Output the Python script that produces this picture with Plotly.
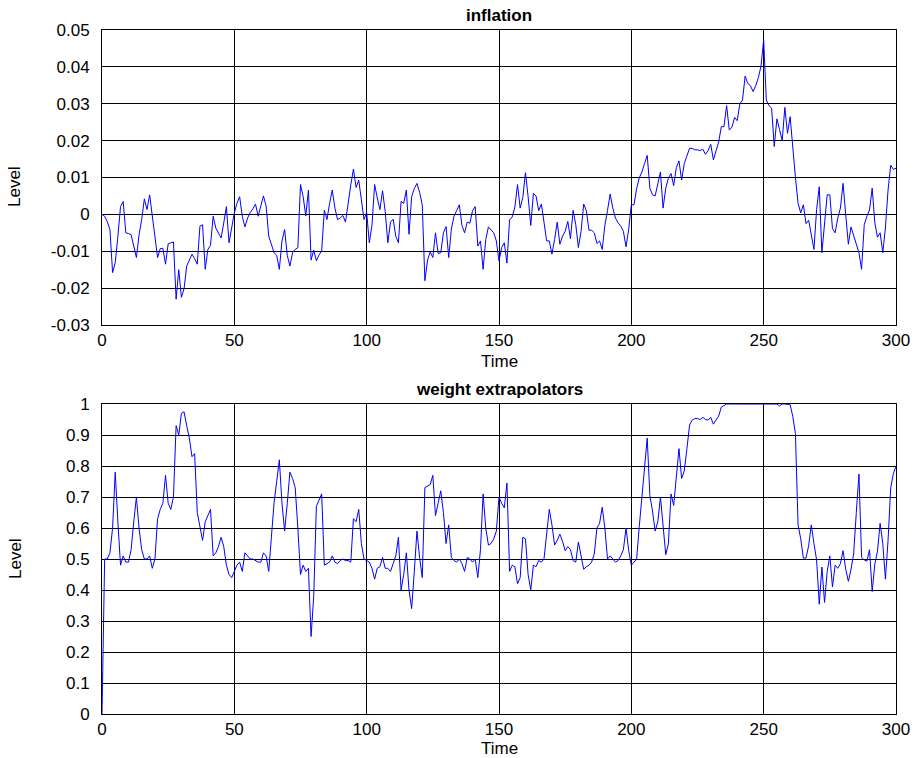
import plotly.graph_objects as go

time = list(range(301))

inflation = [
    0.0, -0.0005, -0.002, -0.0041, -0.0158, -0.0131, -0.006, 0.0021, 0.0035, -0.005,
    -0.0052, -0.0055, -0.0086, -0.0117, -0.0055, -0.0014, 0.0042, 0.0013, 0.0053, -0.0005,
    -0.005, -0.0117, -0.0093, -0.0092, -0.0135, -0.008, -0.0077, -0.0075, -0.023, -0.015,
    -0.0225, -0.0202, -0.014, -0.0126, -0.0108, -0.012, -0.0135, -0.0032, -0.0028, -0.0149,
    -0.0095, -0.0084, -0.0005, -0.0037, -0.0052, -0.0064, -0.0023, 0.0021, -0.0077, -0.0035,
    0.0004, 0.003, 0.0048, -0.0005, -0.0034, -0.001, 0.0005, 0.0015, 0.0028, -0.0005,
    0.002, 0.005, 0.0023, -0.0059, -0.0081, -0.0104, -0.0111, -0.0149, -0.0072, -0.0041,
    -0.0111, -0.014, -0.0104, -0.0095, -0.009, 0.0081, 0.0048, -0.0004, 0.0066, -0.0124,
    -0.0097, -0.0126, -0.011, -0.0099, 0.0011, -0.0014, 0.003, 0.0066, 0.0017, -0.0014,
    -0.001, -0.0003, -0.0021, 0.0035, 0.008, 0.0123, 0.0073, 0.0093, 0.0032, -0.0014,
    0.0005, -0.0077, -0.003, 0.0081, 0.0045, 0.0013, 0.0064, 0.0008, -0.0077, -0.0021,
    -0.0013, -0.0059, -0.0077, 0.0035, 0.003, 0.0066, -0.0054, 0.0048, 0.007, 0.0084,
    0.006, 0.0026, -0.018, -0.0124, -0.0102, -0.0117, -0.005, -0.0106, -0.0104, -0.005,
    -0.0033, -0.0117, -0.004, -0.0005, 0.001, 0.0026, -0.003, -0.005, -0.0021, -0.0024,
    0.001, 0.0021, -0.0086, -0.0072, -0.0149, -0.0068, -0.0034, -0.0043, -0.005, -0.0072,
    -0.0126, -0.009, -0.0077, -0.0132, -0.0015, -0.0007, 0.002, 0.0081, 0.0017, 0.0046,
    0.0113, 0.0048, -0.003, 0.0057, 0.005, 0.001, 0.0028, -0.0021, -0.0072, -0.0072,
    -0.0108, -0.0068, -0.0021, -0.0081, -0.0059, -0.0046, -0.0019, -0.0066, 0.0011, -0.0028,
    -0.009, -0.0046, 0.0028, 0.001, -0.0043, -0.0043, -0.005, -0.0079, -0.0072, -0.0095,
    -0.003, 0.0011, 0.0055, 0.0017, -0.001, -0.0023, -0.0032, -0.0046, -0.0088, -0.004,
    0.0026, 0.0026, 0.007, 0.0099, 0.0115, 0.0138, 0.016, 0.0071, 0.0053, 0.005,
    0.0085, 0.0115, 0.0017, 0.0071, 0.0098, 0.0111, 0.0078, 0.0127, 0.0145, 0.0093,
    0.0138, 0.016, 0.0179, 0.0179, 0.0175, 0.0175, 0.0173, 0.0177, 0.0163, 0.0173,
    0.019, 0.0148, 0.0175, 0.0196, 0.0238, 0.0238, 0.0295, 0.0229, 0.0236, 0.0263,
    0.0254, 0.03, 0.031, 0.0375, 0.0355, 0.0349, 0.0333, 0.0349, 0.0371, 0.0402,
    0.0474, 0.031, 0.0295, 0.0288, 0.0184, 0.0259, 0.023, 0.02, 0.029, 0.022,
    0.0265, 0.0174, 0.01, 0.003, 0.0004, 0.0026, -0.0025, -0.0016, -0.0059, -0.0095,
    0.0013, 0.0075, -0.0104, -0.0023, 0.0053, 0.0053, -0.0039, -0.005, -0.001, 0.0017,
    0.0084, -0.0001, -0.0081, -0.0034, -0.0059, -0.008, -0.0104, -0.0149, -0.0028, -0.0005,
    0.0012, 0.0071, -0.0023, -0.0062, -0.005, -0.0104, -0.0037, 0.0066, 0.0133, 0.0122,
    0.0125,
]

weight = [
    0.0, 0.50, 0.50, 0.52, 0.60, 0.78, 0.62, 0.48, 0.51, 0.49,
    0.49, 0.53, 0.62, 0.70, 0.60, 0.53, 0.50, 0.50, 0.51, 0.47,
    0.50, 0.63, 0.66, 0.68, 0.77, 0.68, 0.66, 0.70, 0.93, 0.90,
    0.97, 0.975, 0.93, 0.89, 0.83, 0.84, 0.65, 0.60, 0.56, 0.62,
    0.64, 0.66, 0.51, 0.52, 0.54, 0.57, 0.54, 0.48, 0.45, 0.44,
    0.46, 0.48, 0.49, 0.46, 0.52, 0.51, 0.50, 0.50, 0.495, 0.49,
    0.49, 0.52, 0.51, 0.46, 0.57, 0.68, 0.75, 0.82, 0.68, 0.59,
    0.68, 0.78, 0.76, 0.73, 0.60, 0.45, 0.48, 0.46, 0.47, 0.25,
    0.38, 0.67, 0.69, 0.71, 0.48, 0.485, 0.49, 0.51, 0.49, 0.485,
    0.495, 0.50, 0.495, 0.495, 0.49, 0.63, 0.62, 0.66, 0.55, 0.50,
    0.495, 0.49, 0.47, 0.435, 0.47, 0.475, 0.505, 0.47, 0.47, 0.46,
    0.485, 0.51, 0.57, 0.40, 0.45, 0.52, 0.40, 0.34, 0.46, 0.59,
    0.505, 0.44, 0.73, 0.735, 0.74, 0.77, 0.64, 0.68, 0.72, 0.65,
    0.55, 0.61, 0.505, 0.495, 0.49, 0.50, 0.485, 0.46, 0.505, 0.50,
    0.49, 0.50, 0.44, 0.53, 0.71, 0.60, 0.545, 0.55, 0.565, 0.59,
    0.70, 0.68, 0.665, 0.745, 0.46, 0.48, 0.475, 0.42, 0.44, 0.57,
    0.565, 0.45, 0.40, 0.48, 0.475, 0.495, 0.49, 0.50, 0.58, 0.66,
    0.61, 0.545, 0.56, 0.58, 0.557, 0.527, 0.54, 0.53, 0.495, 0.49,
    0.555, 0.505, 0.467, 0.475, 0.48, 0.49, 0.516, 0.60, 0.615, 0.667,
    0.60, 0.50, 0.51, 0.50, 0.49, 0.495, 0.51, 0.53, 0.60, 0.527,
    0.48, 0.49, 0.50, 0.605, 0.71, 0.808, 0.89, 0.705, 0.655, 0.59,
    0.62, 0.70, 0.60, 0.514, 0.549, 0.71, 0.673, 0.765, 0.856, 0.76,
    0.784, 0.856, 0.932, 0.948, 0.953, 0.953, 0.95, 0.957, 0.95, 0.948,
    0.957, 0.935, 0.95, 0.961, 0.99, 0.995, 1.0, 1.0, 0.999, 1.0,
    1.0, 1.0, 1.0, 1.0, 1.0, 1.0, 1.0, 1.0, 1.0, 1.0,
    1.0, 1.0, 1.0, 1.0, 1.0, 1.0, 0.994, 1.0, 1.0, 1.0,
    0.998, 0.96, 0.905, 0.61, 0.565, 0.503, 0.503, 0.543, 0.61, 0.55,
    0.497, 0.354, 0.474, 0.36, 0.46, 0.51, 0.41, 0.48, 0.47, 0.485,
    0.527, 0.467, 0.428, 0.467, 0.516, 0.65, 0.774, 0.505, 0.497, 0.493,
    0.53, 0.395, 0.484, 0.525, 0.615, 0.55, 0.435, 0.56, 0.73, 0.775,
    0.80,
]

x_ticks = [0, 50, 100, 150, 200, 250, 300]
infl_ticks = [-0.03, -0.02, -0.01, 0, 0.01, 0.02, 0.03, 0.04, 0.05]
infl_labels = ["-0.03", "-0.02", "-0.01", "0", "0.01", "0.02", "0.03", "0.04", "0.05"]
w_ticks = [0, 0.1, 0.2, 0.3, 0.4, 0.5, 0.6, 0.7, 0.8, 0.9, 1.0]
w_labels = ["0", "0.1", "0.2", "0.3", "0.4", "0.5", "0.6", "0.7", "0.8", "0.9", "1"]

FONT = "Liberation Sans, Arial, Helvetica, sans-serif"

fig = go.Figure()
fig.add_trace(go.Scatter(x=time, y=inflation, mode="lines",
                         line=dict(color="#0000ff", width=1),
                         xaxis="x", yaxis="y", showlegend=False))
fig.add_trace(go.Scatter(x=time, y=weight, mode="lines",
                         line=dict(color="#0000ff", width=1),
                         xaxis="x2", yaxis="y2", showlegend=False))

common = dict(showgrid=True, gridcolor="black", gridwidth=1,
              showline=True, linecolor="black", linewidth=1, mirror=True,
              zeroline=False, ticks="", automargin=False,
              tickfont=dict(size=17, color="black", family=FONT))
xcommon = dict(ticklabelstandoff=0, **common)
ycommon = dict(ticklabelstandoff=8, **common)

top_y0 = (714 - 325) / 684
bot_y1 = (714 - 404) / 684

fig.update_layout(
    width=917, height=758,
    margin=dict(l=102, r=21, t=30, b=44),
    paper_bgcolor="white", plot_bgcolor="white",
    font=dict(family=FONT, size=17, color="black"),
    xaxis=dict(domain=[0, 1], anchor="y", range=[0, 300],
               tickvals=x_ticks, **xcommon),
    yaxis=dict(domain=[top_y0, 1], anchor="x", range=[-0.03, 0.05],
               tickvals=infl_ticks, ticktext=infl_labels, **ycommon),
    xaxis2=dict(domain=[0, 1], anchor="y2", range=[0, 300],
                tickvals=x_ticks, **xcommon),
    yaxis2=dict(domain=[0, bot_y1], anchor="x2", range=[0, 1],
                tickvals=w_ticks, ticktext=w_labels, **ycommon),
    annotations=[
        dict(text="<b>inflation</b>", x=0.5, y=(714 - 15) / 684, xref="paper", yref="paper",
             showarrow=False, font=dict(size=17), xanchor="center", yanchor="middle"),
        dict(text="<b>weight extrapolators</b>", x=0.5, y=(714 - 389) / 684, xref="paper", yref="paper",
             showarrow=False, font=dict(size=17), xanchor="center", yanchor="middle"),
        dict(text="Time", x=0.5, y=(714 - 361) / 684, xref="paper", yref="paper",
             showarrow=False, font=dict(size=17), xanchor="center", yanchor="middle"),
        dict(text="Time", x=0.5, y=(714 - 749) / 684, xref="paper", yref="paper",
             showarrow=False, font=dict(size=17), xanchor="center", yanchor="middle"),
        dict(text="Level", x=(15 - 102) / 794, y=(714 - 187) / 684, xref="paper", yref="paper",
             showarrow=False, font=dict(size=17), textangle=-90, xanchor="center", yanchor="middle"),
        dict(text="Level", x=(15 - 102) / 794, y=(714 - 559) / 684, xref="paper", yref="paper",
             showarrow=False, font=dict(size=17), textangle=-90, xanchor="center", yanchor="middle"),
    ],
)

fig.write_html("out.html")
